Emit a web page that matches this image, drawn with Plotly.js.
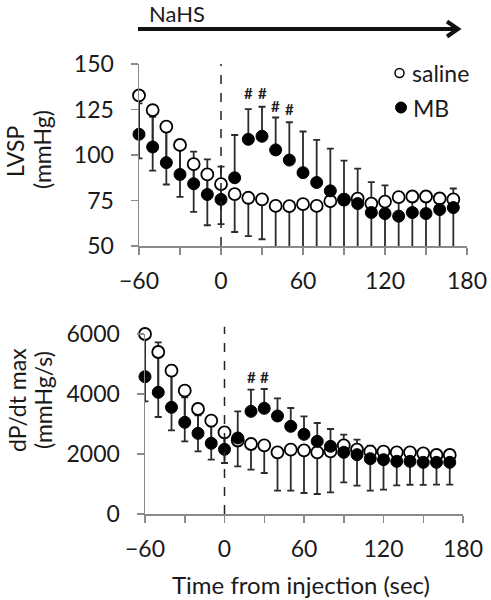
<!DOCTYPE html>
<html>
<head>
<meta charset="utf-8">
<script src="https://cdn.plot.ly/plotly-3.0.1.min.js"></script>
<style>html,body{margin:0;padding:0;background:#fff;}#chart{width:491px;height:600px;}</style>
</head>
<body>
<div id="chart"></div>
<script>
// ---- data ----
var time = [-60,-50,-40,-30,-20,-10,0,10,20,30,40,50,60,70,80,90,100,110,120,130,140,150,160,170];

// LVSP (mmHg)
var lvspSaline      = [132.7,124.6,115.6,105.5,95,89.3,84,78.5,76.5,75.6,72,71.9,73,72,74.6,75.5,76,73.3,74.4,76.8,77.2,77.2,76.1,75.6];
var lvspSalineErrDn = [34.5,33.2,31.8,28.5,26.2,27.9,22,20.8,21.1,21.9,24,24,25,24,26,27,28,25,26,28,29,29,28,27];
var lvspMB          = [111.4,104.4,95.8,89.3,84.2,78.3,75.6,87.5,108.6,110.3,102.8,97.2,90.3,84.9,80.3,75.6,73.3,68.4,67.8,66.4,68.4,67.8,70,71.1];
var lvspMBErrUp     = [17,16.6,17,14.7,17.6,19.3,18,23.5,16.6,16.2,17.8,20.8,22.6,23.4,23.2,21.3,19.2,16.7,15.5,2,2,2,2,10.5];

// dP/dt max (mmHg/s)
var dpSaline        = [6000,5400,4778,4111,3500,3111,2722,2450,2333,2289,2056,2144,2122,2056,2089,2289,2144,2077,2077,2055,2055,2022,1967,1967];
var dpSalineErrDn   = [2244,2167,1989,1689,1411,1300,1022,861,855,922,1278,1366,1422,1389,1367,1233,1200,1299,1266,1100,1080,1050,990,990];
var dpMB            = [4578,4056,3556,3056,2689,2356,2156,2533,3422,3522,3267,2922,2656,2422,2256,2056,1978,1844,1811,1756,1756,1722,1722,1722];
var dpMBErrUp       = [1300,1666,1400,833,600,566,400,889,722,645,589,611,600,611,577,588,500,434,422,100,100,100,100,100];

// significance marks
var hashTopX = [20,30,40,50];
var hashTopY = [134,134,126.7,125.2];
var hashBotX = [20,30];
var hashBotY = [4567,4567];

// axis ticks
var xTickVals = [-60,-30,0,30,60,90,120,150,180];
var xTickText = ['\u221260','','0','','60','','120','','180'];
var yTopTicks = [50,75,100,125,150];
var yBotTicks = [0,2000,4000,6000];

// ---- styling ----
var FONT = 'Lato, "Open Sans", sans-serif';
var TXT = '#1a1a1a';
var AXC = '#8a8a8a';
var ERRC = '#2b2b2b';
var FS = 23;
var W = 491, H = 600;
function px(x){return x/W;}
function py(y){return 1 - y/H;}

function errTrace(xa, ya, y, up) {
  return {x: time, y: y, xaxis: xa, yaxis: ya, type: 'scatter', mode: 'markers',
    marker: {size: 1, color: 'rgba(0,0,0,0)'}, cliponaxis: false, hoverinfo: 'skip',
    error_y: {type: 'data', symmetric: false, array: up, arrayminus: time.map(function(){return 0;}),
      color: ERRC, thickness: 1.8, width: 3.5}, showlegend: false};
}
function salTrace(xa, ya, y, dn) {
  return {x: time, y: y, xaxis: xa, yaxis: ya, type: 'scatter', mode: 'markers', cliponaxis: false,
    marker: {size: 12, color: '#ffffff', line: {color: '#000000', width: 1.8}},
    error_y: {type: 'data', symmetric: false, array: time.map(function(){return 0;}), arrayminus: dn,
      color: ERRC, thickness: 1.8, width: 3.5}, showlegend: false};
}
function mbTrace(xa, ya, y) {
  return {x: time, y: y, xaxis: xa, yaxis: ya, type: 'scatter', mode: 'markers', cliponaxis: false,
    marker: {size: 12, color: '#000000', line: {color: '#000000', width: 1}}, showlegend: false};
}

var data = [
  errTrace('x','y', lvspMB, lvspMBErrUp),
  salTrace('x','y', lvspSaline, lvspSalineErrDn),
  mbTrace('x','y', lvspMB),
  errTrace('x2','y2', dpMB, dpMBErrUp),
  salTrace('x2','y2', dpSaline, dpSalineErrDn),
  mbTrace('x2','y2', dpMB)
];

function xax(domain, anchor) {
  return {domain: domain, anchor: anchor, range: [-60,180], tickmode: 'array', tickvals: xTickVals, ticktext: xTickText,
    showgrid: false, zeroline: false, showline: true, linecolor: AXC, linewidth: 1.5,
    ticks: 'outside', ticklen: 7, tickcolor: AXC, tickwidth: 1.5, ticklabelstandoff: 7,
    tickfont: {family: FONT, size: FS, color: TXT}};
}
function yax(domain, anchor, range, vals) {
  return {domain: domain, anchor: anchor, range: range, tickmode: 'array', tickvals: vals,
    showgrid: false, zeroline: false, showline: true, linecolor: AXC, linewidth: 1.5,
    ticks: 'outside', ticklen: 7, tickcolor: AXC, tickwidth: 1.5, ticklabelstandoff: 12,
    tickfont: {family: FONT, size: FS, color: TXT}};
}

var shapes = [
  {type: 'line', xref: 'x', yref: 'y domain', x0: 0, x1: 0, y0: 0, y1: 1, line: {color: '#222', width: 1.5, dash: 'dash'}},
  {type: 'line', xref: 'x2', yref: 'y2 domain', x0: 0, x1: 0, y0: 0, y1: 1.04, line: {color: '#222', width: 1.5, dash: 'dash'}},
  // NaHS arrow
  {type: 'line', xref: 'paper', yref: 'paper', x0: px(138), x1: px(456), y0: py(29), y1: py(29), line: {color: '#111', width: 4}},
  {type: 'path', xref: 'paper', yref: 'paper',
    path: 'M ' + px(447) + ',' + py(21.5) + ' L ' + px(458) + ',' + py(29) + ' L ' + px(447) + ',' + py(36.5),
    line: {color: '#111', width: 4}},
  // legend markers
  {type: 'circle', xref: 'paper', yref: 'paper', xsizemode: 'pixel', ysizemode: 'pixel',
    xanchor: px(399.5), yanchor: py(73), x0: -4.5, x1: 4.5, y0: -4.5, y1: 4.5,
    fillcolor: '#fff', line: {color: '#000', width: 1.5}},
  {type: 'circle', xref: 'paper', yref: 'paper', xsizemode: 'pixel', ysizemode: 'pixel',
    xanchor: px(401), yanchor: py(107.5), x0: -5.5, x1: 5.5, y0: -5.5, y1: 5.5,
    fillcolor: '#000', line: {color: '#000', width: 1}}
];

var annotations = [
  {xref: 'paper', yref: 'paper', x: px(177), y: py(14), text: 'NaHS', showarrow: false,
    xanchor: 'center', yanchor: 'middle', font: {family: FONT, size: 22, color: TXT}},
  {xref: 'paper', yref: 'paper', x: px(410), y: py(73), text: 'saline', showarrow: false,
    xanchor: 'left', yanchor: 'middle', font: {family: FONT, size: FS, color: TXT}},
  {xref: 'paper', yref: 'paper', x: px(411), y: py(107.5), text: 'MB', showarrow: false,
    xanchor: 'left', yanchor: 'middle', font: {family: FONT, size: FS, color: TXT}},
  {xref: 'paper', yref: 'paper', x: px(15), y: py(152), text: 'LVSP', showarrow: false, textangle: -90,
    xanchor: 'center', yanchor: 'middle', font: {family: FONT, size: FS, color: TXT}},
  {xref: 'paper', yref: 'paper', x: px(42), y: py(150), text: '(mmHg)', showarrow: false, textangle: -90,
    xanchor: 'center', yanchor: 'middle', font: {family: FONT, size: FS, color: TXT}},
  {xref: 'paper', yref: 'paper', x: px(17), y: py(400), text: 'dP/dt max', showarrow: false, textangle: -90,
    xanchor: 'center', yanchor: 'middle', font: {family: FONT, size: FS, color: TXT}},
  {xref: 'paper', yref: 'paper', x: px(43), y: py(400), text: '(mmHg/s)', showarrow: false, textangle: -90,
    xanchor: 'center', yanchor: 'middle', font: {family: FONT, size: FS, color: TXT}},
  {xref: 'paper', yref: 'paper', x: px(301), y: py(584), text: 'Time from injection (sec)', showarrow: false,
    xanchor: 'center', yanchor: 'middle', font: {family: FONT, size: 24, color: TXT}}
];
hashTopX.forEach(function(x, i) {
  annotations.push({xref: 'x', yref: 'y', x: x, y: hashTopY[i], text: '#', showarrow: false,
    xanchor: 'center', yanchor: 'middle', font: {family: FONT, size: 15, color: TXT, weight: 'bold'}});
});
hashBotX.forEach(function(x, i) {
  annotations.push({xref: 'x2', yref: 'y2', x: x, y: hashBotY[i], text: '#', showarrow: false,
    xanchor: 'center', yanchor: 'middle', font: {family: FONT, size: 15, color: TXT, weight: 'bold'}});
});

var layout = {
  width: W, height: H, autosize: false,
  margin: {l: 0, r: 0, t: 0, b: 0, pad: 0},
  paper_bgcolor: '#fff', plot_bgcolor: '#fff',
  showlegend: false,
  xaxis: xax([px(139), px(467)], 'y'),
  yaxis: yax([py(246), py(64)], 'x', [50,150], yTopTicks),
  xaxis2: xax([px(145), px(463)], 'y2'),
  yaxis2: yax([py(514), py(334)], 'x2', [0,6000], yBotTicks),
  shapes: shapes,
  annotations: annotations,
  font: {family: FONT, color: TXT}
};

Plotly.newPlot('chart', data, layout, {staticPlot: true, displayModeBar: false});
</script>
</body>
</html>
